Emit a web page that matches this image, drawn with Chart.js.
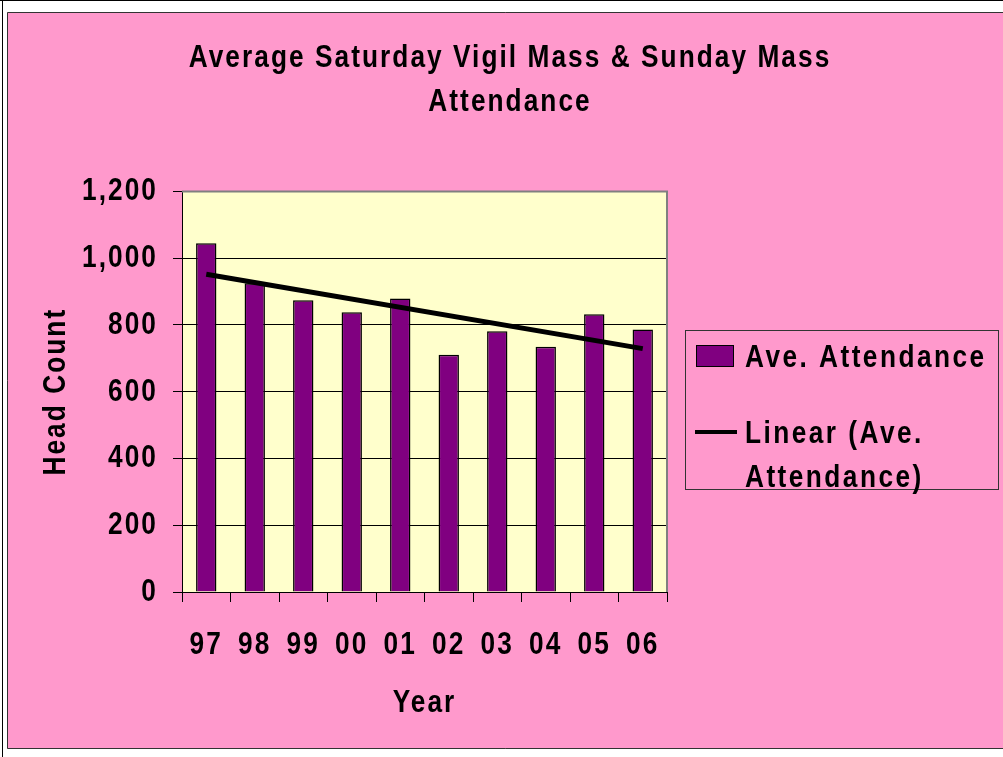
<!DOCTYPE html>
<html>
<head>
<meta charset="utf-8">
<script src="https://cdn.jsdelivr.net/npm/chart.js@4"></script>
<style>
  html, body { margin: 0; padding: 0; background: #fff; }
  canvas { display: block; }
</style>
</head>
<body>
<canvas id="chart" width="1003" height="757"></canvas>
<script>
// data
const years = ['97', '98', '99', '00', '01', '02', '03', '04', '05', '06'];
const attendance = [1045, 925, 874, 838, 879, 711, 781, 735, 832, 786];
// linear trend line: only its two ends
const trend = [952, null, null, null, null, null, null, null, null, 729];
const titleLines = ['Average Saturday Vigil Mass & Sunday Mass', 'Attendance'];
const seriesName = 'Ave. Attendance';
const trendNameLines = ['Linear (Ave.', 'Attendance)'];

const FONT = '"Liberation Sans", Arial, sans-serif';
const PINK = '#ff99cc';
const PLOT = '#ffffcc';
const BAR = '#800080';
const NARROW = 0.82;   // the original uses a condensed face, squeeze text horizontally
const SPACING = '2.5px';

const canvas = document.getElementById('chart');
const c2d = canvas.getContext('2d');
const rawFillText = c2d.fillText;
c2d.fillText = function (text, x, y) {
    this.save();
    this.translate(x, y);
    this.scale(NARROW, 1);
    rawFillText.call(this, text, 0, 0);
    this.restore();
};

const frame = {
    id: 'frame',
    beforeDraw(chart) {
        const ctx = chart.ctx;
        const a = chart.chartArea;
        ctx.save();
        ctx.fillStyle = '#fff';
        ctx.fillRect(0, 0, chart.width, chart.height);
        ctx.fillStyle = '#000';
        ctx.fillRect(0, 0, chart.width, 1);
        ctx.fillRect(2, 0, 1, chart.height);
        ctx.fillStyle = PINK;
        ctx.fillRect(7, 12, chart.width - 7, 737);
        ctx.strokeStyle = '#333';
        ctx.lineWidth = 1;
        ctx.beginPath();
        ctx.moveTo(chart.width, 12.5);
        ctx.lineTo(7.5, 12.5);
        ctx.lineTo(7.5, 748.5);
        ctx.lineTo(chart.width, 748.5);
        ctx.stroke();
        ctx.fillStyle = PLOT;
        ctx.fillRect(a.left, a.top, a.right - a.left, a.bottom - a.top);
        ctx.restore();
        ctx.letterSpacing = SPACING;
    },
    afterDatasetsDraw(chart) {
        const ctx = chart.ctx;
        const a = chart.chartArea;
        ctx.save();
        ctx.strokeStyle = '#808080';
        ctx.lineWidth = 2;
        ctx.beginPath();
        ctx.moveTo(a.left, a.top);
        ctx.lineTo(a.right, a.top);
        ctx.lineTo(a.right, a.bottom);
        ctx.stroke();
        ctx.restore();
    }
};

const legendBox = {
    id: 'legendBox',
    afterDraw(chart) {
        const ctx = chart.ctx;
        const x = chart.chartArea.right + 18;
        const y = 330;
        ctx.save();
        ctx.strokeStyle = '#333';
        ctx.lineWidth = 1;
        ctx.strokeRect(x + 0.5, y + 0.5, 313, 159);

        ctx.fillStyle = BAR;
        ctx.fillRect(x + 11, y + 15, 38, 22);
        ctx.strokeStyle = '#000';
        ctx.strokeRect(x + 11.5, y + 15.5, 37, 21);

        ctx.lineWidth = 4;
        ctx.beginPath();
        ctx.moveTo(x + 10, y + 102);
        ctx.lineTo(x + 52, y + 102);
        ctx.stroke();

        ctx.fillStyle = '#000';
        ctx.font = 'bold 32px ' + FONT;
        ctx.letterSpacing = '3px';
        ctx.textAlign = 'left';
        ctx.textBaseline = 'alphabetic';
        ctx.fillText(seriesName, x + 60, y + 37);
        trendNameLines.forEach((t, i) => ctx.fillText(t, x + 60, y + 113 + i * 44));
        ctx.restore();
    }
};

new Chart(canvas, {
    data: {
        labels: years,
        datasets: [{
            type: 'line',
            label: 'Linear (Ave. Attendance)',
            data: trend,
            spanGaps: true,
            borderColor: '#000',
            borderWidth: 5,
            pointRadius: 0,
            order: 0
        }, {
            type: 'bar',
            label: seriesName,
            data: attendance,
            backgroundColor: BAR,
            borderColor: '#000',
            borderWidth: 1.5,
            barPercentage: 0.42,
            categoryPercentage: 1,
            order: 1
        }]
    },
    options: {
        responsive: false,
        animation: false,
        layout: { padding: { left: 17, right: 0, top: 0, bottom: 0 } },
        plugins: {
            legend: { display: false },
            tooltip: { enabled: false },
            title: {
                display: true,
                text: titleLines,
                color: '#000',
                font: { family: FONT, size: 32, weight: 'bold', lineHeight: 1.35 },
                padding: { top: 37, bottom: 68 }
            }
        },
        scales: {
            x: {
                offset: true,
                grid: { offset: true, drawOnChartArea: false, color: '#000', tickLength: 10 },
                border: { color: '#000', width: 1 },
                ticks: { color: '#000', padding: 24, font: { family: FONT, size: 32, weight: 'bold' } },
                title: {
                    display: true, text: 'Year', color: '#000',
                    font: { family: FONT, size: 32, weight: 'bold' },
                    padding: { top: 0, bottom: 35 }
                },
                afterFit(s) { s.height = 165; }
            },
            y: {
                min: 0,
                max: 1200,
                ticks: { stepSize: 200, color: '#000', padding: 15, font: { family: FONT, size: 32, weight: 'bold' } },
                grid: { color: '#000', tickLength: 9 },
                border: { color: '#000', width: 1 },
                title: {
                    display: true, text: 'Head Count', color: '#000',
                    font: { family: FONT, size: 32, weight: 'bold' },
                    padding: { top: 20, bottom: 0 }
                },
                afterFit(s) { s.width = 165; }
            },
            right: {
                position: 'right',
                min: 0,
                max: 1,
                grid: { display: false },
                border: { display: false },
                ticks: { display: false },
                afterFit(s) { s.width = 336; }
            }
        }
    },
    plugins: [frame, legendBox]
});
</script>
</body>
</html>
